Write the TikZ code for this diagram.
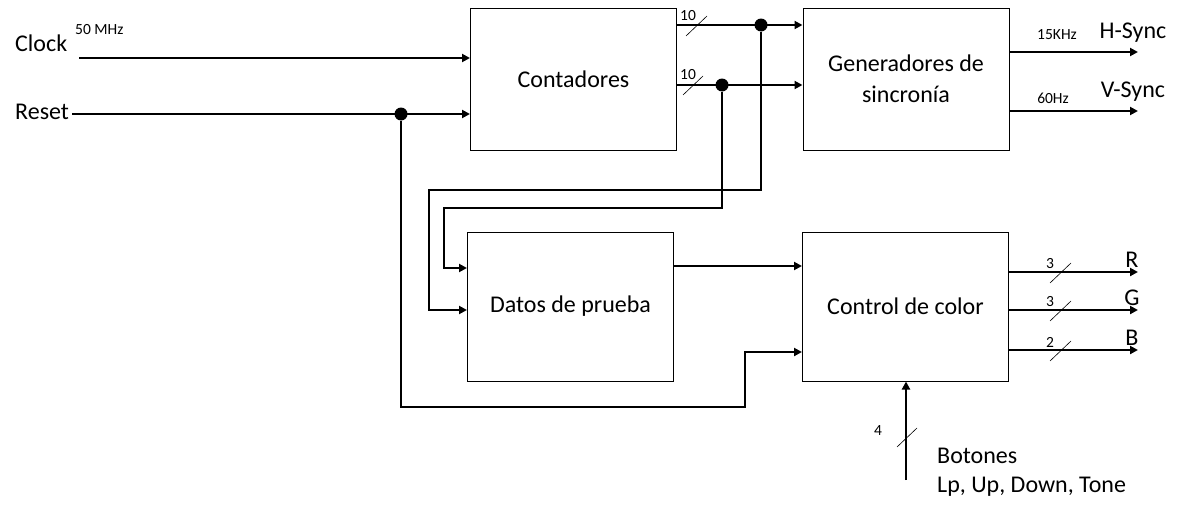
\documentclass[tikz,border=0pt]{standalone}
\usepackage{fontspec}
\setmainfont{Carlito}
\usetikzlibrary{arrows.meta,positioning}

\tikzset{
  blk/.style={draw,line width=1pt,minimum width=206pt,minimum height=142pt,
    align=center,inner sep=0pt,font=\fontsize{24}{31}\selectfont},
  sig/.style={line width=2pt,-{Triangle[length=8pt,width=8pt]}},
  bus/.style={line width=0.6pt},
  lbl/.style={inner sep=0pt,font=\fontsize{24}{29}\selectfont},
  sml/.style={inner sep=0pt,font=\fontsize{15.5}{17}\selectfont},
  jdot/.style={circle,fill,inner sep=0pt,minimum size=13pt}
}

\begin{document}
\begin{tikzpicture}[x=1pt,y=-1pt]
	\useasboundingbox (0,0) rectangle (1183,514);
	% bloques
	\node[blk] (cont) at (573.5,79) {Contadores};
	\node[blk] (gen) at (906,79) {Generadores de\\sincronía};
	\node[blk,minimum height=149pt] (datos) at (570.5,306.5) {Datos de prueba};
	\node[blk,minimum height=149pt] (ctrl) at (905.5,306.5) {Control de color};

	% entradas
	\node[lbl,anchor=west] (clk) at (15,43) {Clock};
	\node[sml,anchor=west] (mhz) at (75,30) {50 MHz};
	\coordinate (clkin) at (79,58);
	\draw[sig] (clkin) -- (clkin -| cont.west);

	\node[lbl,anchor=west] (rst) at (15,112) {Reset};
	\coordinate (rstin) at (72,114);
	\node[jdot] (rdot) at (401,114) {};
	\draw[sig] (rstin) -- (rstin -| cont.west);
	\draw[sig] (rdot) |- (745,407) |- (ctrl.west |- 0,352);

	% contadores -> generadores
	\node[jdot] (d1) at (761,25) {};
	\node[jdot] (d2) at (722,85) {};
	\draw[sig] (cont.east |- d1) -- (gen.west |- d1);
	\draw[sig] (cont.east |- d2) -- (gen.west |- d2);
	\draw[bus] (686,36) -- (707,16);
	\draw[bus] (683,95) -- (703,76);
	\node[sml] (n1) at (688,16) {10};
	\node[sml] (n2) at (688,75) {10};
	\draw[sig] (d1) |- (429,190) |- (datos.west |- 0,310);
	\draw[sig] (d2) |- (444,208) |- (datos.west |- 0,268);

	% datos -> control
	\draw[sig] (datos.east |- 0,266) -- (ctrl.west |- 0,266);

	% salidas de sincronia
	\coordinate (hs) at (1138,52);
	\coordinate (vs) at (1138,111);
	\draw[sig] (gen.east |- hs) -- (hs);
	\draw[sig] (gen.east |- vs) -- (vs);
	\node[sml] (fh) at (1057,35) {15KHz};
	\node[sml] (fv) at (1053,98) {60Hz};
	\node[lbl] (hsl) at (1133,33) {H-Sync};
	\node[lbl] (vsl) at (1133,92) {V-Sync};

	% salidas de color
	\foreach \y/\n/\c in {272/3/R,310/3/G,350/2/B} {
		\draw[sig] (ctrl.east |- 0,\y) -- (1138,\y);
		\draw[bus] (1050,\y+11) -- (1071,\y-9);
		\node[sml] at (1050,\y-8) {\n};
		\node[lbl] at (1132,\y-12) {\c};
	}

	% botones
	\coordinate (bt) at (906,480);
	\draw[sig] (bt) -- (bt |- ctrl.south);
	\draw[bus] (897,447) -- (917,428);
	\node[sml] (n4) at (878,431) {4};
	\node[lbl,anchor=west,align=left] (bot) at (937,472) {Botones\\Lp, Up, Down, Tone};
\end{tikzpicture}
\end{document}
